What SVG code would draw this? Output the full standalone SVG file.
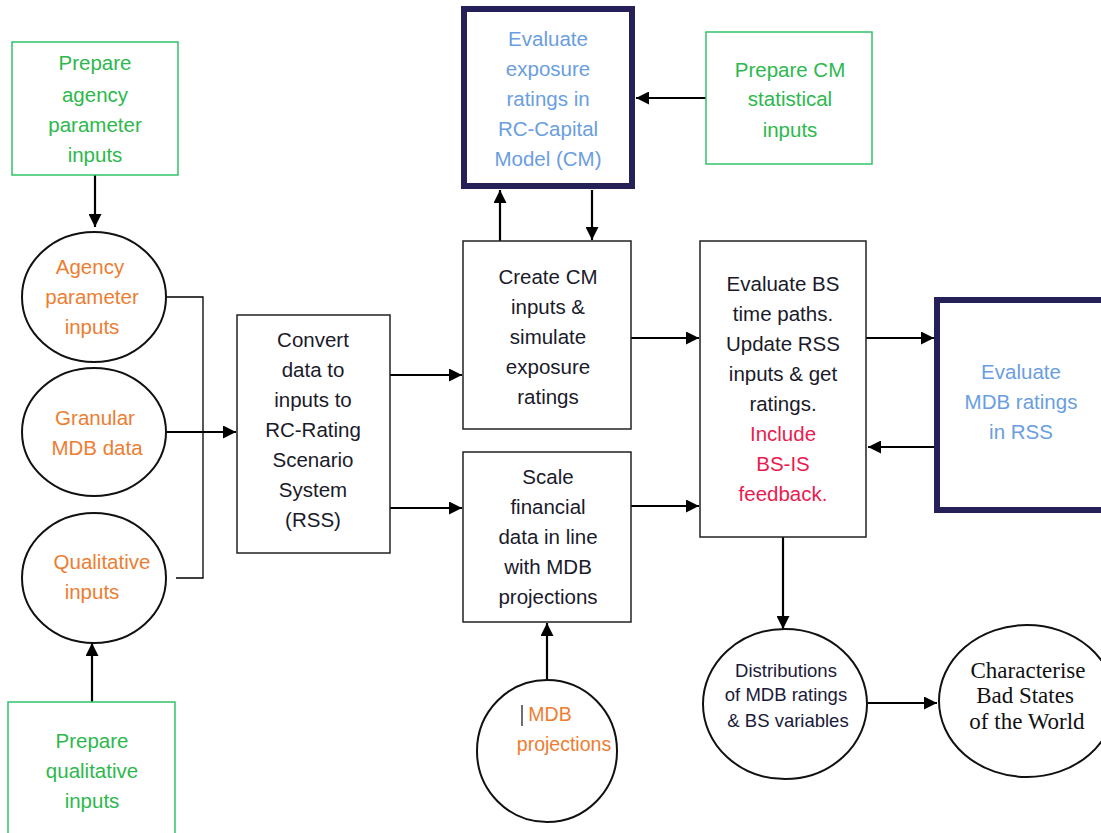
<svg xmlns="http://www.w3.org/2000/svg" width="1101" height="833" viewBox="0 0 1101 833">
<defs>
<marker id="ah" viewBox="0 0 10 10" refX="10" refY="5" markerWidth="13" markerHeight="13" markerUnits="userSpaceOnUse" orient="auto">
<path d="M0,0 L10,5 L0,10 z" fill="#000"/>
</marker>
<style>
.box{fill:#fff;stroke:#222;stroke-width:1.5}
.gbox{fill:#fff;stroke:#2fc46a;stroke-width:1.5}
.nbox{fill:#fff;stroke:#252158;stroke-width:6}
.ell{fill:#fff;stroke:#111;stroke-width:2}
text{font-family:"Liberation Sans",Arial,sans-serif;font-size:20.5px;text-anchor:middle}
.g{fill:#2db84d}
.o{fill:#ed7d31}
.b{fill:#6a9ee0}
.k{fill:#1a1a2a}
.r{fill:#ea1b4f}
.s{font-size:18.5px;fill:#1a1a3a}
.sf{font-family:"Liberation Serif","Times New Roman",serif;font-size:23px;fill:#111}
.c{fill:none;stroke:#000;stroke-width:2.2}
.t{fill:none;stroke:#000;stroke-width:1.3}
</style>
</defs>
<g id="connectors">
<line class="c" x1="95" y1="175" x2="95" y2="227" marker-end="url(#ah)"/>
<polyline class="t" points="166,297 203,297 203,578 176,578"/>
<line class="c" x1="166" y1="432" x2="236" y2="432" marker-end="url(#ah)"/>
<line class="c" x1="92" y1="702" x2="92" y2="643" marker-end="url(#ah)"/>
<line class="c" x1="390" y1="375" x2="462" y2="375" marker-end="url(#ah)"/>
<line class="c" x1="390" y1="508" x2="462" y2="508" marker-end="url(#ah)"/>
<line class="c" x1="500" y1="241" x2="500" y2="190" marker-end="url(#ah)"/>
<line class="c" x1="592" y1="190" x2="592" y2="240" marker-end="url(#ah)"/>
<line class="c" x1="706" y1="98" x2="636" y2="98" marker-end="url(#ah)"/>
<line class="c" x1="547" y1="680" x2="547" y2="623" marker-end="url(#ah)"/>
<line class="c" x1="631" y1="338" x2="699" y2="338" marker-end="url(#ah)"/>
<line class="c" x1="631" y1="506" x2="699" y2="506" marker-end="url(#ah)"/>
<line class="c" x1="866" y1="338" x2="934" y2="338" marker-end="url(#ah)"/>
<line class="c" x1="934" y1="447" x2="868" y2="447" marker-end="url(#ah)"/>
<line class="c" x1="783" y1="537" x2="783" y2="629" marker-end="url(#ah)"/>
<line class="c" x1="866" y1="703" x2="937" y2="703" marker-end="url(#ah)"/>
</g>
<g id="prep-agency">
<rect class="gbox" x="12" y="42" width="166" height="133"/>
<text class="g" x="95" y="70">Prepare</text>
<text class="g" x="95" y="102">agency</text>
<text class="g" x="95" y="132">parameter</text>
<text class="g" x="95" y="162">inputs</text>
</g>
<g id="agency">
<ellipse class="ell" cx="94" cy="297" rx="72" ry="65"/>
<text class="o" x="90" y="274">Agency</text>
<text class="o" x="92" y="304">parameter</text>
<text class="o" x="92" y="334">inputs</text>
</g>
<g id="granular">
<ellipse class="ell" cx="94" cy="432" rx="72" ry="64"/>
<text class="o" x="95" y="425">Granular</text>
<text class="o" x="97" y="455">MDB data</text>
</g>
<g id="qualitative">
<ellipse class="ell" cx="94" cy="578" rx="72" ry="65"/>
<text class="o" x="102" y="569">Qualitative</text>
<text class="o" x="92" y="599">inputs</text>
</g>
<g id="prep-qual">
<rect class="gbox" x="8" y="702" width="167" height="140"/>
<text class="g" x="92" y="748">Prepare</text>
<text class="g" x="92" y="778">qualitative</text>
<text class="g" x="92" y="808">inputs</text>
</g>
<g id="convert">
<rect class="box" x="237" y="315" width="153" height="238"/>
<text class="k" x="313" y="347">Convert</text>
<text class="k" x="313" y="377">data to</text>
<text class="k" x="313" y="407">inputs to</text>
<text class="k" x="313" y="437">RC-Rating</text>
<text class="k" x="313" y="467">Scenario</text>
<text class="k" x="313" y="497">System</text>
<text class="k" x="313" y="527">(RSS)</text>
</g>
<g id="eval-exposure">
<rect class="nbox" x="464" y="9" width="168" height="177"/>
<text class="b" x="548" y="46">Evaluate</text>
<text class="b" x="548" y="76">exposure</text>
<text class="b" x="548" y="106">ratings in</text>
<text class="b" x="548" y="136">RC-Capital</text>
<text class="b" x="548" y="166">Model (CM)</text>
</g>
<g id="prep-cm">
<rect class="gbox" x="706" y="32" width="166" height="132"/>
<text class="g" x="790" y="77">Prepare CM</text>
<text class="g" x="790" y="106">statistical</text>
<text class="g" x="790" y="137">inputs</text>
</g>
<g id="create-cm">
<rect class="box" x="463" y="241" width="168" height="188"/>
<text class="k" x="548" y="284">Create CM</text>
<text class="k" x="548" y="314">inputs &amp;</text>
<text class="k" x="548" y="344">simulate</text>
<text class="k" x="548" y="374">exposure</text>
<text class="k" x="548" y="404">ratings</text>
</g>
<g id="scale">
<rect class="box" x="463" y="452" width="168" height="170"/>
<text class="k" x="548" y="484">Scale</text>
<text class="k" x="548" y="514">financial</text>
<text class="k" x="548" y="544">data in line</text>
<text class="k" x="548" y="574">with MDB</text>
<text class="k" x="548" y="604">projections</text>
</g>
<g id="mdb-proj">
<ellipse class="ell" cx="547" cy="751" rx="70" ry="71"/>
<line x1="522" y1="705" x2="522" y2="726" stroke="#222" stroke-width="1.3"/>
<text class="o" x="550" y="721" style="font-size:19.5px">MDB</text>
<text class="o" x="564" y="751" style="font-size:19.5px">projections</text>
</g>
<g id="eval-bs">
<rect class="box" x="700" y="241" width="166" height="296"/>
<text class="k" x="783" y="291">Evaluate BS</text>
<text class="k" x="783" y="321">time paths.</text>
<text class="k" x="783" y="351">Update RSS</text>
<text class="k" x="783" y="381">inputs &amp; get</text>
<text class="k" x="783" y="411">ratings.</text>
<text class="r" x="783" y="441">Include</text>
<text class="r" x="783" y="471">BS-IS</text>
<text class="r" x="783" y="501">feedback.</text>
</g>
<g id="eval-mdb">
<rect class="nbox" x="937" y="300" width="175" height="210"/>
<text class="b" x="1021" y="379">Evaluate</text>
<text class="b" x="1021" y="409">MDB ratings</text>
<text class="b" x="1021" y="439">in RSS</text>
</g>
<g id="distributions">
<ellipse class="ell" cx="785" cy="704" rx="82" ry="75"/>
<text class="s" x="786" y="677">Distributions</text>
<text class="s" x="786" y="701">of MDB ratings</text>
<text class="s" x="788" y="727">&amp; BS variables</text>
</g>
<g id="characterise">
<ellipse class="ell" cx="1027" cy="701" rx="88" ry="76"/>
<text class="sf" x="1028" y="678">Characterise</text>
<text class="sf" x="1025" y="703">Bad States</text>
<text class="sf" x="1027" y="729">of the World</text>
</g>
</svg>
